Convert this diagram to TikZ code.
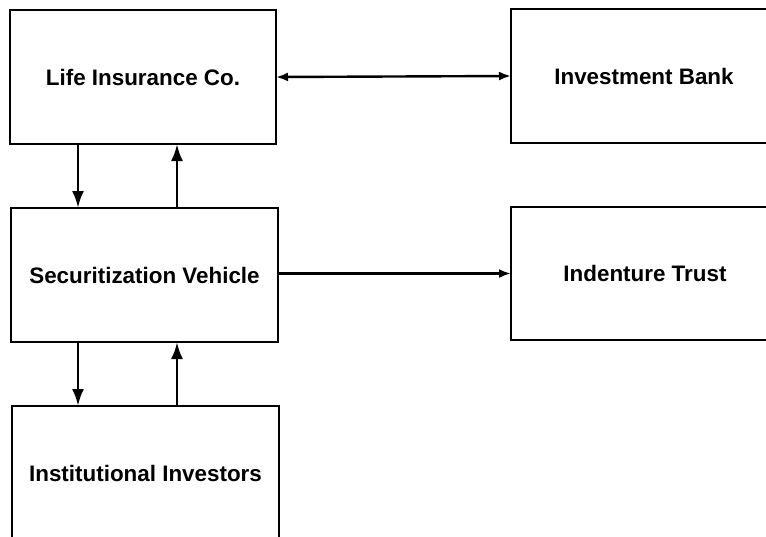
\documentclass[tikz,border=0pt]{standalone}
\usepackage{fontspec}
\setmainfont{Liberation Sans}
\usetikzlibrary{arrows.meta,calc}

\tikzset{
  party/.style={draw=black, line width=2pt, rectangle, anchor=north west,
    inner sep=0pt, outer sep=0pt, align=center,
    font=\fontsize{22.4pt}{26pt}\selectfont\bfseries},
  vflow/.style={line width=2.8pt, -{Latex[length=17pt,width=12pt]}},
  hflow/.style={line width=2.4pt, -{Latex[length=12pt,width=9pt]}},
  hboth/.style={line width=2.4pt, {Latex[length=12pt,width=9pt]}-{Latex[length=12pt,width=9pt]}},
}

\begin{document}
\begin{tikzpicture}[x=1pt, y=-1pt]
  \useasboundingbox[fill=white] (0,0) rectangle (766,536);

  % parties (the right-hand boxes and the lowest box run past the page edge)
  \node[party, minimum width=266pt, minimum height=134pt] (lic) at (10,10) {Life Insurance Co.};
  \node[party, minimum width=266pt, minimum height=134pt] (ib)  at (511,9) {Investment Bank};
  \node[party, minimum width=267pt, minimum height=134pt] (sv)  at (11,208) {Securitization Vehicle};
  \node[party, minimum width=268pt, minimum height=133pt] (it)  at (511,207) {Indenture Trust};
  \node[party, minimum width=267pt, minimum height=134pt] (ii)  at (12,406) {Institutional Investors};

  % flows between the boxes
  \draw[hboth] (lic.east) -- (ib.west);
  \draw[hflow] (sv.east |- it.west) -- (it.west);

  \coordinate (a1) at ([xshift=68pt]lic.south west);
  \coordinate (a2) at ([xshift=167pt]lic.south west);
  \draw[vflow] (a1) -- (a1 |- sv.north);
  \draw[vflow] (a2 |- sv.north) -- (a2);

  \coordinate (b1) at ([xshift=67pt]sv.south west);
  \coordinate (b2) at ([xshift=166pt]sv.south west);
  \draw[vflow] (b1) -- (b1 |- ii.north);
  \draw[vflow] (b2 |- ii.north) -- (b2);
\end{tikzpicture}
\end{document}
